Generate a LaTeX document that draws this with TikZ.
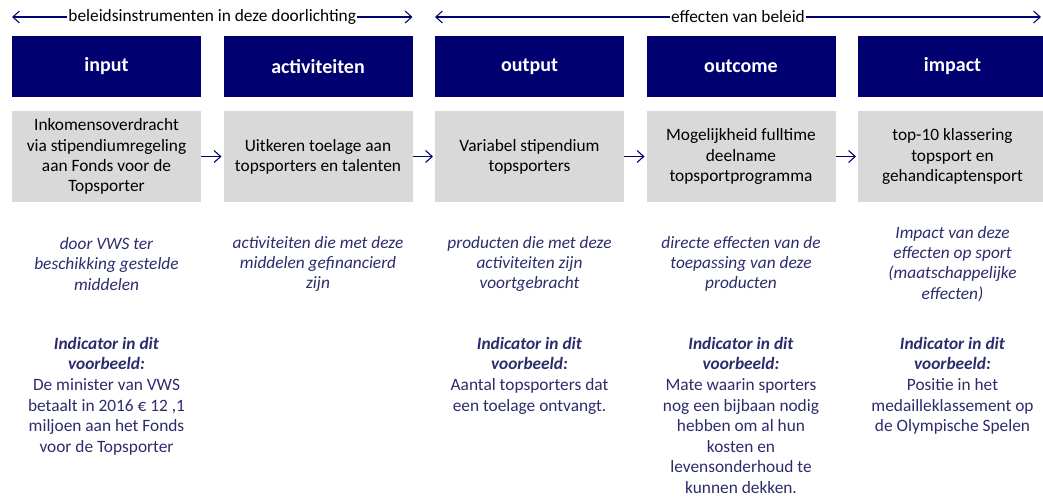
\documentclass[tikz,border=0pt]{standalone}
\usepackage{fontspec}
\setmainfont{Carlito}
\usetikzlibrary{arrows.meta,positioning}
\definecolor{navy}{RGB}{0,0,112}
\definecolor{lightgrey}{RGB}{217,217,217}
\definecolor{inkblue}{RGB}{44,44,108}

\begin{document}
\begin{tikzpicture}[
  x=0.75pt, y=-0.75pt,
  node distance=10.5pt and 16.875pt,
  head/.style={fill=navy, text=white, font=\fontsize{15}{18}\selectfont\bfseries,
               minimum width=141.75pt, minimum height=45.75pt, inner sep=0pt, outer sep=0pt},
  box/.style={fill=lightgrey, align=center, font=\fontsize{13}{15.2}\selectfont,
              minimum width=141.75pt, minimum height=68.25pt, inner sep=0pt, outer sep=0pt,
              text depth=2pt},
  role/.style={align=center, text=inkblue, font=\fontsize{13}{15.2}\selectfont\itshape, inner sep=0pt},
  ind/.style={align=center, text=inkblue, font=\fontsize{13}{15.4}\selectfont, inner sep=0pt, anchor=north},
  arr/.style={-{Straight Barb[length=5pt,width=9pt]}, navy, line width=0.8pt, shorten >=1.5pt},
  span/.style={{Straight Barb[length=5pt,width=9pt]}-{Straight Barb[length=5pt,width=9pt]},
               navy, line width=0.8pt},
  spanlabel/.style={fill=white, text=black, inner sep=1pt, font=\fontsize{13}{15}\selectfont}]
\useasboundingbox (0,0) rectangle (1043,497);

% kopjes
\node[head, anchor=north west] (hin) at (12,36) {input};
\node[head, right=of hin] (hact) {activiteiten};
\node[head, right=of hact] (hout) {output};
\node[head, right=of hout] (hoc) {outcome};
\node[head, right=of hoc] (himp) {impact};

% grijze vakken
\node[box, below=of hin] (bin) {Inkomensoverdracht\\via stipendiumregeling\\aan Fonds voor de\\Topsporter};
\node[box, below=of hact] (bact) {Uitkeren toelage aan\\topsporters en talenten};
\node[box, below=of hout] (bout) {Variabel stipendium\\topsporters};
\node[box, below=of hoc] (boc) {Mogelijkheid fulltime\\deelname\\topsportprogramma};
\node[box, below=of himp] (bimp) {top-10 klassering\\topsport en\\gehandicaptensport};
\draw[arr] (bin) -- (bact);
\draw[arr] (bact) -- (bout);
\draw[arr] (bout) -- (boc);
\draw[arr] (boc) -- (bimp);

% pijlen boven
\coordinate (s1a) at (hin.north west |- 0,17);
\coordinate (s1b) at (hact.north east |- 0,17);
\coordinate (s2a) at (hout.north west |- 0,17);
\coordinate (s2b) at (1041,17);
\draw[span] (s1a) -- node[spanlabel]{beleidsinstrumenten in deze doorlichting} (s1b);
\draw[span] (s2a) -- node[spanlabel]{effecten van beleid} (s2b);

% omschrijving
\node[role] (rin) at (bin |- 0,264) {door VWS ter\\beschikking gestelde\\middelen};
\node[role] (ract) at (bact |- 0,264) {activiteiten die met deze\\middelen gefinancierd\\zijn};
\node[role] (rout) at (bout |- 0,264) {producten die met deze\\activiteiten zijn\\voortgebracht};
\node[role] (roc) at (boc |- 0,264) {directe effecten van de\\toepassing van deze\\producten};
\node[role] (rimp) at (bimp |- 0,264) {Impact van deze\\effecten op sport\\(maatschappelijke\\effecten)};

% indicatoren
\node[ind] (iin) at (bin |- 0,337) {\textbf{\textit{Indicator in dit}}\\\textbf{\textit{voorbeeld:}}\\De minister van VWS\\betaalt in 2016 € 12 ,1\\miljoen aan het Fonds\\voor de Topsporter};
\node[ind] (iout) at (bout |- 0,337) {\textbf{\textit{Indicator in dit}}\\\textbf{\textit{voorbeeld:}}\\Aantal topsporters dat\\een toelage ontvangt.};
\node[ind] (ioc) at (boc |- 0,337) {\textbf{\textit{Indicator in dit}}\\\textbf{\textit{voorbeeld:}}\\Mate waarin sporters\\nog een bijbaan nodig\\hebben om al hun\\kosten en\\levensonderhoud te\\kunnen dekken.};
\node[ind] (iimp) at (bimp |- 0,337) {\textbf{\textit{Indicator in dit}}\\\textbf{\textit{voorbeeld:}}\\Positie in het\\medailleklassement op\\de Olympische Spelen};
\end{tikzpicture}
\end{document}
